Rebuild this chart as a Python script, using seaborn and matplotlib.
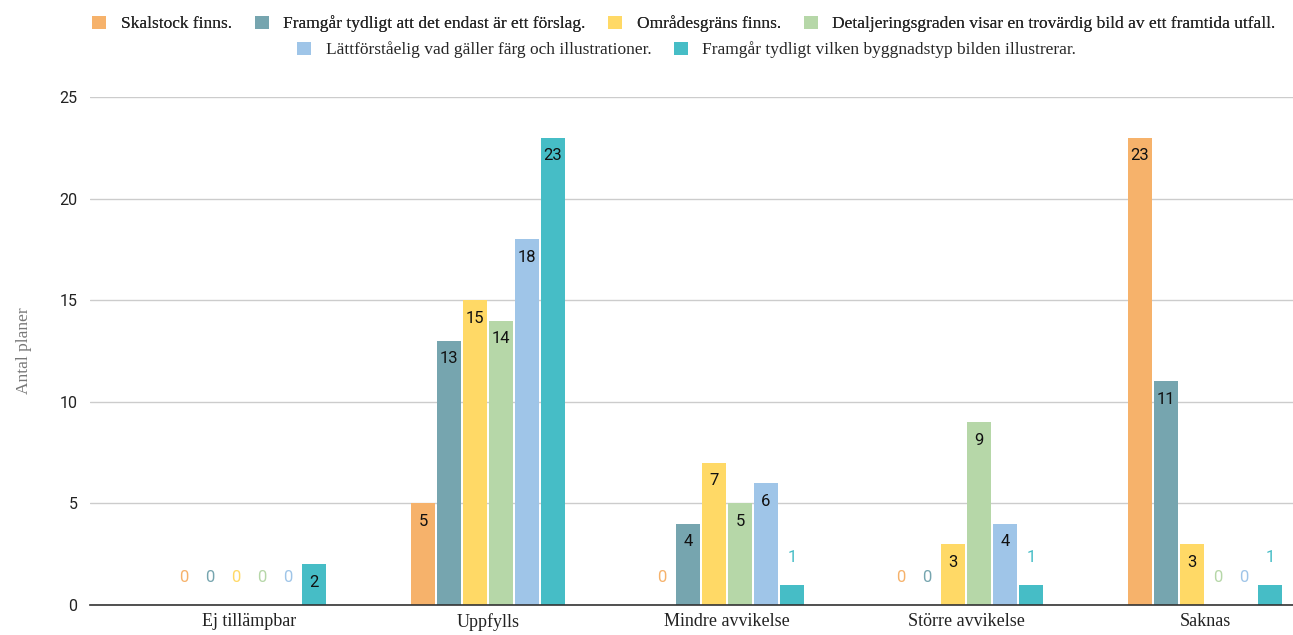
"""Antal planer per bedömning och kriterium."""

import matplotlib.pyplot as plt
import pandas as pd
import seaborn as sns
from matplotlib.patches import Patch

CATEGORIES = ["Ej tillämpbar", "Uppfylls", "Mindre avvikelse", "Större avvikelse", "Saknas"]
SERIES = [
    "Skalstock finns.",
    "Framgår tydligt att det endast är ett förslag.",
    "Områdesgräns finns.",
    "Detaljeringsgraden visar en trovärdig bild av ett framtida utfall.",
    "Lättförståelig vad gäller färg och illustrationer.",
    "Framgår tydligt vilken byggnadstyp bilden illustrerar.",
]
SKALSTOCK = [0, 5, 0, 0, 23]
FORSLAG = [0, 13, 4, 0, 11]
OMRADESGRANS = [0, 15, 7, 3, 3]
DETALJERING = [0, 14, 5, 9, 0]
LATTFORSTAELIG = [0, 18, 6, 4, 0]
BYGGNADSTYP = [2, 23, 1, 1, 1]

COLORS = ["#F6B26B", "#76A5AF", "#FFD966", "#B6D7A8", "#9FC5E8", "#46BDC6"]
SERIF = ["Liberation Serif", "DejaVu Serif"]
SANS = ["Roboto", "DejaVu Sans"]


def build_frame() -> pd.DataFrame:
    values = [SKALSTOCK, FORSLAG, OMRADESGRANS, DETALJERING, LATTFORSTAELIG, BYGGNADSTYP]
    rows = []
    for name, vals in zip(SERIES, values):
        for cat, v in zip(CATEGORIES, vals):
            rows.append({"kategori": cat, "serie": name, "antal": v})
    return pd.DataFrame(rows)


def main() -> None:
    sns.set_theme(style="white")
    plt.rcParams["font.family"] = SANS

    df = build_frame()
    fig = plt.figure(figsize=(12.93, 6.35), dpi=100)
    ax = fig.add_axes([90 / 1293, 30 / 635, 1203 / 1293, 508 / 635])

    sns.barplot(
        data=df,
        x="kategori",
        y="antal",
        hue="serie",
        hue_order=SERIES,
        order=CATEGORIES,
        palette=COLORS,
        width=0.653,
        gap=0.1,
        saturation=1,
        linewidth=0,
        legend=False,
        ax=ax,
    )

    ax.set_xlim(-0.665, 4.368)
    ax.set_ylim(0, 25)
    ax.set_yticks([0, 5, 10, 15, 20, 25])
    ax.yaxis.grid(True, color="#CCCCCC", linewidth=1)
    ax.set_axisbelow(True)
    for side in ["top", "right", "left"]:
        ax.spines[side].set_visible(False)
    ax.spines["bottom"].set_color("#333333")
    ax.spines["bottom"].set_linewidth(1.2)
    ax.tick_params(axis="y", length=0, pad=9, labelsize=11.5, labelcolor="#222222")
    ax.tick_params(axis="x", length=0, pad=6)
    for lbl in ax.get_xticklabels():
        lbl.set_family(SERIF)
        lbl.set_fontsize(13)
        lbl.set_color("#222222")
    ax.set_xlabel("")
    ax.set_ylabel("Antal planer", family=SERIF, fontsize=12.5, color="#777777", labelpad=20)

    for container, color in zip(ax.containers, COLORS):
        for bar in container:
            h = bar.get_height()
            x = bar.get_x() + bar.get_width() / 2
            if h >= 2:
                ax.annotate(f"{h:.0f}", (x, h), xytext=(0, -13), textcoords="offset points",
                            ha="center", va="center", fontsize=12, color="#111111")
            else:
                ax.annotate(f"{h:.0f}", (x, h), xytext=(0, 19.5), textcoords="offset points",
                            ha="center", va="center", fontsize=12, color=color)

    handles = [Patch(facecolor=c, edgecolor="none") for c in COLORS]
    leg_kw = dict(frameon=False, handlelength=0.8, handleheight=0.8, handletextpad=0.85,
                  columnspacing=1.3, prop={"family": SERIF, "size": 12.5}, loc="center")
    leg1 = fig.legend(handles[:4], SERIES[:4], ncol=4, bbox_to_anchor=(0.529, 1 - 24 / 635), **leg_kw)
    fig.add_artist(leg1)
    fig.legend(handles[4:], SERIES[4:], ncol=2, bbox_to_anchor=(0.531, 1 - 50 / 635), **leg_kw)

    fig.savefig("out.png", dpi=100, facecolor="white")


if __name__ == "__main__":
    main()
